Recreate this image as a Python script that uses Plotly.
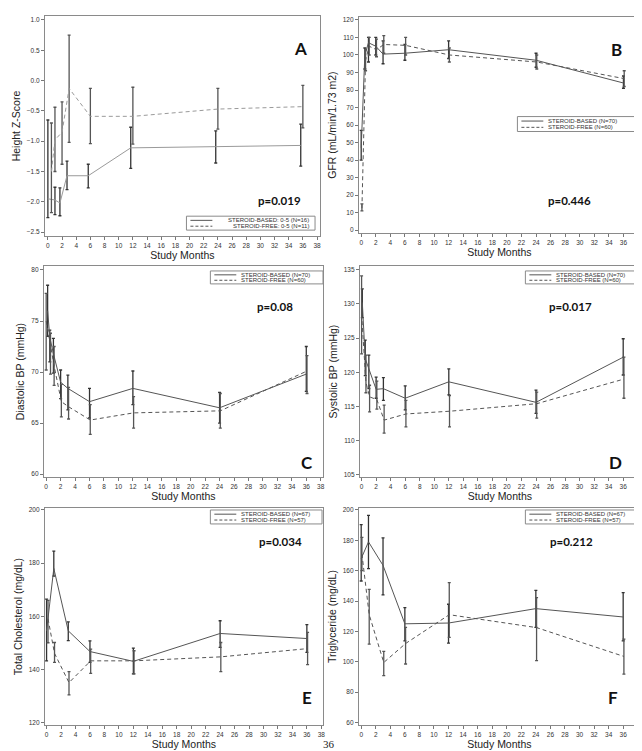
import plotly.graph_objects as go

W, H = 642, 751

months_label = "Study Months"

# ---------------- Panel A: Height Z-score ----------------
A_x_based = [0, 1, 1.7, 2.7, 5.7, 11.7, 23.7, 35.7]
A_based = [-1.95, -1.97, -2.02, -1.57, -1.57, -1.11, -1.09, -1.07]
A_based_lo = [-2.26, -2.21, -2.23, -1.80, -1.77, -1.45, -1.36, -1.41]
A_based_hi = [-0.65, -1.76, -1.77, -1.33, -1.38, -0.77, -0.83, -0.72]
A_x_free = [0.5, 1, 2, 3, 6, 12, 24, 36]
A_free = [-1.50, -0.98, -0.85, -0.13, -0.59, -0.59, -0.47, -0.43]
A_free_lo = [-2.18, -1.50, -1.38, -1.02, -1.04, -1.05, -0.80, -0.78]
A_free_hi = [-0.70, -0.44, -0.35, 0.75, -0.13, -0.11, -0.13, -0.08]

# ---------------- Panel B: GFR ----------------
B_x_based = [0, 0.5, 1, 2, 3, 6, 12, 24, 36]
B_based = [47, 100, 107, 105, 100.5, 101, 103, 97, 84]
B_based_lo = [40, 92, 96, 100, 95, 97, 98, 93, 81]
B_based_hi = [57, 104, 110, 110, 108, 106, 108, 101, 88]
B_x_free = [0.1, 0.6, 1.1, 2.1, 3.1, 6.1, 12.1, 24.1, 36.1]
B_free = [12.5, 97, 105, 103, 106, 105.5, 100, 96, 86.5]
B_free_lo = [11, 91, 100, 99, 101, 100, 96, 92, 82]
B_free_hi = [15, 103, 110, 109, 111, 110, 104, 100, 91]

# ---------------- Panel C: Diastolic BP ----------------
C_x_based = [0.2, 0.5, 1, 2, 3, 6, 12, 24, 36]
C_based = [76.0, 73.4, 71.8, 69.0, 68.4, 67.1, 68.4, 66.5, 69.8]
C_based_lo = [73.5, 71.0, 69.9, 67.4, 66.3, 65.5, 66.8, 65.0, 68.1]
C_based_hi = [78.5, 74.1, 73.3, 70.2, 69.7, 68.4, 70.1, 68.0, 72.5]
C_x_free = [0, 0.6, 1.1, 2.1, 3.1, 6.1, 12.1, 24.1, 36.1]
C_free = [75.0, 72.5, 70.6, 67.1, 66.6, 65.3, 66.0, 66.2, 70.1]
C_free_lo = [70.2, 69.8, 68.7, 65.6, 65.4, 63.9, 64.5, 64.5, 67.9]
C_free_hi = [77.7, 73.8, 72.5, 68.8, 68.5, 66.8, 67.6, 67.9, 71.6]

# ---------------- Panel D: Systolic BP ----------------
D_x_based = [0.1, 0.5, 1, 2, 3, 6, 12, 24, 36]
D_based = [130.2, 122.0, 120.5, 117.5, 117.6, 116.2, 118.6, 115.6, 122.2]
D_based_lo = [128.0, 119.5, 117.6, 116.2, 115.9, 114.5, 116.7, 114.0, 119.6]
D_based_hi = [132.2, 124.7, 122.5, 119.3, 119.2, 118.0, 120.5, 117.4, 124.9]
D_x_free = [0, 0.6, 1.1, 2.1, 3.1, 6.1, 12.1, 24.1, 36.1]
D_free = [128.5, 118.5, 116.4, 116.0, 113.0, 113.9, 114.3, 115.4, 119.0]
D_free_lo = [122.7, 117.0, 114.2, 114.6, 111.1, 112.0, 112.0, 113.3, 116.2]
D_free_hi = [134.1, 122.5, 118.1, 118.7, 115.2, 115.9, 116.6, 117.1, 122.2]

# ---------------- Panel E: Total cholesterol ----------------
E_x_based = [0, 1, 3, 6, 12, 24, 36]
E_based = [154.5, 178.0, 154.5, 146.7, 143.0, 153.5, 151.6]
E_based_lo = [143.2, 175.1, 150.8, 142.6, 138.3, 148.3, 146.4]
E_based_hi = [166.4, 184.5, 157.9, 150.7, 148.0, 158.3, 156.8]
E_x_free = [0.2, 1.1, 3.1, 6.1, 12.1, 24.1, 36.1]
E_free = [159.0, 146.0, 135.0, 143.2, 143.2, 144.7, 147.8]
E_free_lo = [150.0, 142.6, 130.4, 138.5, 138.3, 139.1, 141.8]
E_free_hi = [166.0, 150.1, 139.1, 147.6, 147.0, 150.1, 153.9]

# ---------------- Panel F: Triglyceride ----------------
F_x_based = [0, 1, 3, 6, 12, 24, 36]
F_based = [168.0, 179.0, 163.5, 125.0, 125.5, 135.0, 129.5]
F_based_lo = [153.2, 161.3, 144.0, 113.8, 112.3, 122.6, 113.8]
F_based_hi = [190.4, 196.5, 181.6, 135.7, 137.9, 147.0, 145.5]
F_x_free = [0.1, 1.1, 3.1, 6.1, 12.1, 24.1, 36.1]
F_free = [171.0, 131.0, 99.5, 112.0, 131.0, 122.5, 103.5]
F_free_lo = [160.0, 111.6, 90.8, 98.5, 116.0, 100.7, 91.9]
F_free_hi = [182.0, 147.7, 106.8, 122.6, 152.1, 142.2, 114.9]

y_titles = ["Height Z-Score", "GFR (mL/min/1.73 m2)", "Diastolic BP (mmHg)",
            "Systolic BP (mmHg)", "Total Cholesterol (mg/dL)", "Triglyceride (mg/dL)"]
panel_letters = ["A", "B", "C", "D", "E", "F"]
p_values = ["p=0.019", "p=0.446", "p=0.08", "p=0.017", "p=0.034", "p=0.212"]
legend_labels = [
    ["STEROID-BASED: 0-5 (N=16)", "STEROID-FREE: 0-5 (N=11)"],
    ["STEROID-BASED (N=70)", "STEROID-FREE (N=60)"],
    ["STEROID-BASED (N=70)", "STEROID-FREE (N=60)"],
    ["STEROID-BASED (N=70)", "STEROID-FREE (N=60)"],
    ["STEROID-BASED (N=67)", "STEROID-FREE (N=57)"],
    ["STEROID-BASED (N=67)", "STEROID-FREE (N=57)"],
]
page_number = "36"
y_ticks = [
    [-2.5, -2.0, -1.5, -1.0, -0.5, 0.0, 0.5, 1.0],
    list(range(0, 121, 10)),
    list(range(60, 81, 5)),
    list(range(105, 136, 5)),
    list(range(120, 201, 20)),
    list(range(60, 201, 20)),
]
x_ticks = list(range(0, 39, 2))

series = [
    (A_x_based, A_based, A_based_lo, A_based_hi, A_x_free, A_free, A_free_lo, A_free_hi),
    (B_x_based, B_based, B_based_lo, B_based_hi, B_x_free, B_free, B_free_lo, B_free_hi),
    (C_x_based, C_based, C_based_lo, C_based_hi, C_x_free, C_free, C_free_lo, C_free_hi),
    (D_x_based, D_based, D_based_lo, D_based_hi, D_x_free, D_free, D_free_lo, D_free_hi),
    (E_x_based, E_based, E_based_lo, E_based_hi, E_x_free, E_free, E_free_lo, E_free_hi),
    (F_x_based, F_based, F_based_lo, F_based_hi, F_x_free, F_free, F_free_lo, F_free_hi),
]

# ---------------- layout geometry (pixels) ----------------
frames = [
    (37, 313, 6, 227),
    (352, 634, 7, 224),
    (36, 316, 257, 469),
    (353, 634, 257, 469),
    (37, 316, 500, 718),
    (352, 634, 500, 718),
]
x_cal = [(40, 310), (354.3, 632), (38.3, 313.7), (354.7, 631.7), (38.7, 314.3), (354.3, 631.7)]
y_cal = [(1.0, 10, -2.5, 223), (120, 10, 0, 221), (80, 261, 60, 466),
         (135, 260.7, 105, 466.7), (200, 502, 120, 715.3), (200, 502, 60, 715.3)]
letter_pos = [(293, 26), (618, 27), (300, 454), (618, 454), (300, 703), (614, 703)]
p_pos = [(272, 183), (587, 183), (268, 298), (588, 298), (273, 542), (589, 542)]
legend_box = [(179, 207, 308, 221), (511, 107, 641, 122), (203, 262, 316, 275),
              (519, 262, 632, 275), (203, 502, 315, 516), (519, 502, 631, 516)]


def px(x):
    return x / W


def py(y):
    return 1 - y / H


fig = go.Figure()
shapes = []
annotations = []

for i in range(6):
    xa = "x" if i == 0 else f"x{i+1}"
    ya = "y" if i == 0 else f"y{i+1}"
    xb, yb, lob, hib, xf, yf, lof, hif = series[i]
    line_col = "#9a9a9a" if i == 0 else "#555555"
    fig.add_trace(go.Scatter(
        x=xb, y=yb, mode="lines", xaxis=xa, yaxis=ya, showlegend=False,
        name=legend_labels[i][0],
        line=dict(color=line_col, width=1),
        error_y=dict(type="data", symmetric=False,
                     array=[h - v for h, v in zip(hib, yb)],
                     arrayminus=[v - l for v, l in zip(yb, lob)],
                     color="#333333", thickness=1.3, width=1.5)))
    fig.add_trace(go.Scatter(
        x=xf, y=yf, mode="lines", xaxis=xa, yaxis=ya, showlegend=False,
        name=legend_labels[i][1],
        line=dict(color=line_col, width=1, dash="4px,3px"),
        error_y=dict(type="data", symmetric=False,
                     array=[h - v for h, v in zip(hif, yf)],
                     arrayminus=[v - l for v, l in zip(yf, lof)],
                     color="#555555", thickness=1.3, width=1.5)))

    L, R, T, B = frames[i]
    x0p, x38p = x_cal[i]
    sx = (x38p - x0p) / 38.0
    xr = [(L - x0p) / sx, (R - x0p) / sx]
    v1, p1, v2, p2 = y_cal[i]

    def yv(p, v1=v1, p1=p1, v2=v2, p2=p2):
        return v1 + (p - p1) * (v2 - v1) / (p2 - p1)
    yr = [yv(B), yv(T)]

    axis_common = dict(showline=True, linecolor="#8a8a8a", linewidth=1, mirror=True,
                       ticks="outside", ticklen=3, tickcolor="#777777", tickwidth=1,
                       showgrid=False, zeroline=False,
                       tickfont=dict(family="Liberation Sans", size=6.5, color="#333333"))
    fig.update_layout(**{
        ("xaxis" if i == 0 else f"xaxis{i+1}"): dict(
            domain=[px(L), px(R)], range=xr, anchor=ya, tickvals=x_ticks,
            title=dict(text=months_label, standoff=0,
                       font=dict(family="Liberation Sans", size=10.5, color="#222222")),
            **axis_common),
        ("yaxis" if i == 0 else f"yaxis{i+1}"): dict(
            domain=[py(B), py(T)], range=yr, anchor=xa, tickvals=y_ticks[i],
            tickformat=".1f" if i == 0 else "d",
            title=dict(text=y_titles[i], standoff=4,
                       font=dict(family="Liberation Sans", size=10.5, color="#222222")),
            **axis_common),
    })

    lx, ly = letter_pos[i]
    annotations.append(dict(x=px(lx), y=py(ly), xref="paper", yref="paper",
                            text=f"<b>{panel_letters[i]}</b>", showarrow=False,
                            font=dict(family="Lato", size=17, color="#111111")))
    ppx, ppy = p_pos[i]
    annotations.append(dict(x=px(ppx), y=py(ppy), xref="paper", yref="paper",
                            text=f"<b>{p_values[i]}</b>", showarrow=False,
                            font=dict(family="Lato", size=11.5, color="#111111")))

    # legend box
    bx0, by0, bx1, by1 = legend_box[i]
    shapes.append(dict(type="rect", xref="paper", yref="paper",
                       x0=px(bx0), x1=px(bx1), y0=py(by1), y1=py(by0),
                       line=dict(color="#8a8a8a", width=1), fillcolor="white"))
    row1 = by0 + (by1 - by0) * 0.3
    row2 = by0 + (by1 - by0) * 0.72
    shapes.append(dict(type="line", xref="paper", yref="paper",
                       x0=px(bx0 + 4), x1=px(bx0 + 26), y0=py(row1), y1=py(row1),
                       line=dict(color="#555555", width=1)))
    shapes.append(dict(type="line", xref="paper", yref="paper",
                       x0=px(bx0 + 4), x1=px(bx0 + 26), y0=py(row2), y1=py(row2),
                       line=dict(color="#555555", width=1, dash="3px,2px")))
    if i == 0:
        tx, anchor = bx1 - 4, "right"
    else:
        tx, anchor = bx0 + 29, "left"
    for lab, ry in zip(legend_labels[i], [row1, row2]):
        annotations.append(dict(x=px(tx), y=py(ry), xref="paper", yref="paper",
                                text=lab, showarrow=False, xanchor=anchor, yanchor="middle",
                                font=dict(family="Liberation Sans", size=6, color="#333333")))

annotations.append(dict(x=px(322), y=py(737), xref="paper", yref="paper", text=page_number,
                        showarrow=False, xanchor="center", yanchor="middle",
                        font=dict(family="Liberation Serif", size=11, color="#222222")))

fig.update_layout(width=W, height=H, margin=dict(l=0, r=0, t=0, b=0),
                  paper_bgcolor="white", plot_bgcolor="white",
                  shapes=shapes, annotations=annotations, showlegend=False)

fig.write_html("out.html")
